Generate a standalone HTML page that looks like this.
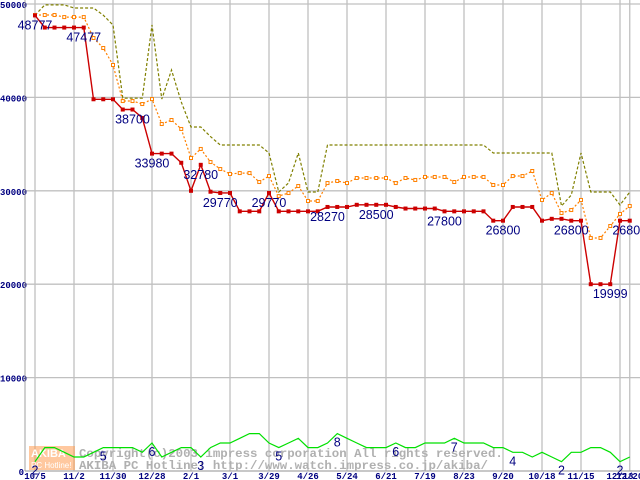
<!DOCTYPE html>
<html><head><meta charset="utf-8"><style>
html,body{margin:0;padding:0;background:#fff;}
svg{display:block;}
</style></head><body>
<svg id="chart" width="640" height="480" viewBox="0 0 640 480" xmlns="http://www.w3.org/2000/svg" font-family="Liberation Sans, sans-serif">
<g id="grid"></g>
<g id="watermark">
  <rect x="29" y="446" width="46" height="24" fill="#ff9a50" opacity="0.55"/>
  <text x="31" y="457" font-size="11" font-weight="bold" fill="#fff">AKIBA</text>
  <text x="31" y="468" font-size="8" fill="#fff">PC Hotline!</text>
  <text x="79" y="457" font-size="12.4" font-weight="bold" font-family="Liberation Mono, monospace" fill="#b0b0b0">Copyright(c)2003 impress corporation All rights reserved.</text>
  <text x="79" y="469" font-size="12.4" font-weight="bold" font-family="Liberation Mono, monospace" fill="#b0b0b0">AKIBA PC Hotline!  http://www.watch.impress.co.jp/akiba/</text>
</g>
<g id="series"></g>
<g id="labels"></g>
</svg>
<script>
const xLabels = ["10/5","11/2","11/30","12/28","2/1","3/1","3/29","4/26","5/24","6/21","7/19","8/23","9/20","10/18","11/15","12/13","12/20"];
const xLabelIdx = [0,4,8,12,16,20,24,28,32,36,40,44,48,52,56,60,61];
const yTicks = [0,10000,20000,30000,40000,50000];
const minPrice = [48777,47477,47477,47477,47477,47477,39800,39800,39800,38700,38700,37800,33980,33980,33980,33000,30000,32780,29900,29770,29770,27800,27800,27800,29770,27800,27800,27800,27800,27800,28270,28270,28270,28500,28500,28500,28500,28270,28100,28100,28100,28100,27800,27800,27800,27800,27800,26800,26800,28270,28270,28270,26800,27000,27000,26800,26800,19999,19999,19999,26800,26800];
const avgPrice = [48820,48820,48820,48600,48600,48600,46360,45290,43470,39610,39610,39290,39820,37150,37580,36620,33510,34480,33080,32330,31800,31900,31900,30940,31580,29430,29760,30510,28910,28910,30830,31050,30830,31370,31370,31370,31370,30830,31370,31160,31480,31480,31480,30940,31480,31480,31480,30620,30620,31580,31580,32120,29020,29760,27620,27940,29020,24950,24950,26230,27520,28370];
const maxPrice = [48800,49900,49900,49900,49570,49570,49570,48800,47750,39930,39930,39930,47750,39820,42930,39500,36830,36830,35800,34900,34900,34900,34900,34900,34050,29870,30830,34050,29870,29870,34900,34900,34900,34900,34900,34900,34900,34900,34900,34900,34900,34900,34900,34900,34900,34900,34900,34050,34050,34050,34050,34050,34050,34050,28370,29550,34050,29870,29870,29870,28480,29870];
const shopCount = [2,5,5,4,3,3,4,5,5,5,5,4,6,3,4,5,5,3,5,6,6,7,8,8,6,5,6,7,5,5,6,8,7,6,5,5,5,6,5,5,6,6,6,7,6,6,6,5,5,4,4,3,4,3,2,4,4,5,5,4,2,3];
const priceLabelIdx = [0,5,10,12,17,19,24,30,35,42,48,55,59,61];
const countLabelIdx = [0,7,12,17,25,31,37,43,49,54,60];

const NS="http://www.w3.org/2000/svg";
const X0=35, DX=9.75, Y0=471, YS=0.00934;
const xs=i=>X0+i*DX;
const ys=v=>Y0-v*YS;
const countY=c=>ys(c*500);
function mk(tag,attrs,parent){const e=document.createElementNS(NS,tag);for(const k in attrs)e.setAttribute(k,attrs[k]);parent.appendChild(e);return e;}
const grid=document.getElementById('grid'), series=document.getElementById('series'), labels=document.getElementById('labels');

mk('rect',{x:25,y:0,width:615,height:471,fill:'#fff'},grid);
yTicks.forEach(v=>{
  const l=mk('line',{x1:25,x2:640,y1:ys(v),y2:ys(v),stroke:'#c0c0c0','stroke-width':1.3},grid);
  
  
  const t=mk('text',{x:v===0?24:27,y:ys(v)+4,'text-anchor':'end','font-size':9,'font-weight':'bold',fill:'#000080','font-family':'Liberation Mono, monospace'},grid);
  t.textContent=v;
  
  
});
xLabelIdx.forEach((ix,k)=>{
  const l=mk('line',{x1:xs(ix),x2:xs(ix),y1:0,y2:471,stroke:'#c0c0c0','stroke-width':1.3},grid);
  
  
  const t=mk('text',{x:xs(ix),y:479,'text-anchor':'middle','font-size':9,'font-weight':'bold',fill:'#000080','font-family':'Liberation Mono, monospace'},grid);
  t.textContent=xLabels[k];
  
  
});
const ax=mk('line',{x1:25,x2:25,y1:0,y2:471,stroke:'#a0a0a0','stroke-width':1},grid);


const bx=mk('line',{x1:25,x2:640,y1:471,y2:471,stroke:'#a0a0a0','stroke-width':1},grid);



function pts(arr,f){return arr.map((v,i)=>xs(i).toFixed(1)+','+f(v).toFixed(1)).join(' ');}
const g1=mk('polyline',{points:pts(shopCount,countY),fill:'none',stroke:'#00e000','stroke-width':1.2},series);


const m1=mk('polyline',{points:pts(maxPrice,ys),fill:'none',stroke:'#808000','stroke-width':1.2,'stroke-dasharray':'3,2'},series);


const a1=mk('polyline',{points:pts(avgPrice,ys),fill:'none',stroke:'#ff8000','stroke-width':1.2,'stroke-dasharray':'2,2'},series);


avgPrice.forEach((v,i)=>{
  const r=mk('rect',{x:xs(i)-1.5,y:ys(v)-1.5,width:3,height:3,fill:'#fff',stroke:'#ff8000','stroke-width':1},series);
  
  
});
const r1=mk('polyline',{points:pts(minPrice,ys),fill:'none',stroke:'#cc0000','stroke-width':1.4},series);


minPrice.forEach((v,i)=>{
  const r=mk('rect',{x:xs(i)-2,y:ys(v)-2,width:4,height:4,fill:'#cc0000'},series);
  
  
});
priceLabelIdx.forEach(ix=>{
  let cx=Math.max(22,xs(ix));
  const t=mk('text',{x:cx,y:ys(minPrice[ix])+14,'text-anchor':'middle','font-size':12.5,fill:'#000080'},labels);
  t.textContent=minPrice[ix];
  
  
});
countLabelIdx.forEach(ix=>{
  const t=mk('text',{x:xs(ix),y:countY(shopCount[ix])+13,'text-anchor':'middle','font-size':12.5,fill:'#000080'},labels);
  t.textContent=shopCount[ix];
  
  
});
</script>
</body></html>
